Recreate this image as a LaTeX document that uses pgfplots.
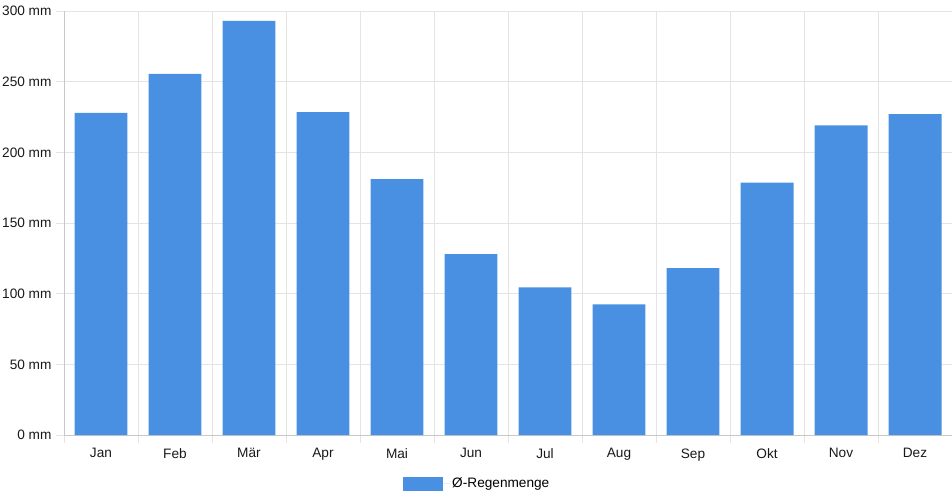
\documentclass[border=0pt]{standalone}
\usepackage{fontspec}
\setmainfont{Liberation Sans}
\usepackage{pgfplots}
\pgfplotsset{compat=1.18}
\definecolor{barblue}{HTML}{4A90E2}
\definecolor{gridgray}{HTML}{E4E4E4}
\definecolor{axisgray}{HTML}{C8C8C8}
\begin{document}
\begin{tikzpicture}
\begin{axis}[
	scale only axis,
	width=888bp, height=424bp,
	xmin=-0.5, xmax=11.5,
	ymin=0, ymax=300,
	ybar, bar width=0.716,
	xtick={0,...,11},
	xticklabels={Jan,Feb,Mär,Apr,Mai,Jun,Jul,Aug,Sep,Okt,Nov,Dez},
	minor xtick={-0.5,0.5,...,11.5},
	ytick={0,50,...,300},
	yticklabel={\pgfmathprintnumber{\tick}~mm},
	/pgf/number format/assume math mode=true,
	ticklabel style={font=\fontsize{13.7}{16}\selectfont, text=black!90},
	major x tick style={draw=none},
	minor x tick style={draw=gridgray, line width=0.8bp},
	y tick style={draw=gridgray, line width=0.8bp},
	tick align=outside,
	major tick length=8bp, minor tick length=8bp,
	xmajorgrids=false, xminorgrids=true, ymajorgrids=true,
	grid style={draw=gridgray, line width=0.8bp},
	minor grid style={draw=gridgray, line width=0.8bp},
	axis x line*=bottom, axis y line*=left,
	axis line style={draw=axisgray, line width=0.8bp, -},
	xticklabel style={yshift=-2bp},
	yticklabel style={xshift=-1bp},
	legend style={at={(0.3818,-0.0967)}, anchor=north west, draw=none,
		inner sep=0pt, font=\fontsize{13.7}{16}\selectfont, legend columns=1},
	legend image code/.code={\path (0bp,0bp) -- (47bp,0bp);
		\fill[barblue] (0bp,-7bp) rectangle (40bp,7bp);},
	legend cell align=left,
]
\addplot[fill=barblue, draw=none] coordinates {
	(0,228) (1,255.5) (2,293) (3,228.5) (4,181) (5,128)
	(6,104.5) (7,92.5) (8,118) (9,178.5) (10,219) (11,227)
};
\legend{Ø-Regenmenge}
\coordinate (sw) at (rel axis cs:0,0);
\coordinate (ne) at (rel axis cs:1,1);
\end{axis}
\pgfresetboundingbox
\path ([xshift=-64bp,yshift=-65bp]sw) rectangle ([yshift=11bp]ne);
\end{tikzpicture}
\end{document}
